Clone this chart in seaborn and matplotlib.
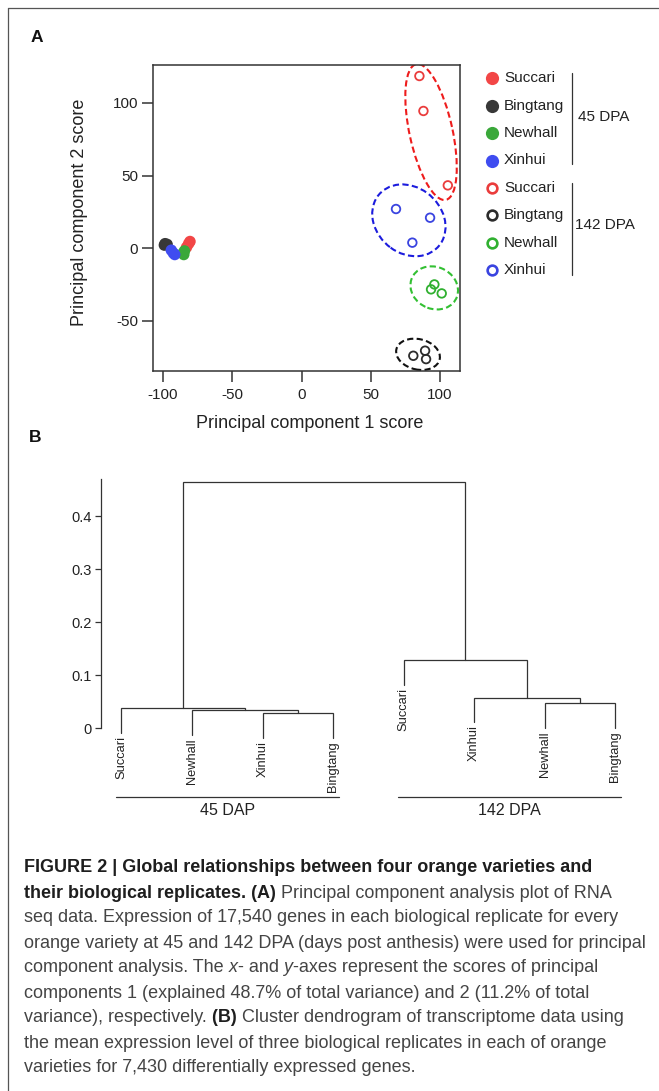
import numpy as np
import pandas as pd
import matplotlib
matplotlib.use("Agg")
import matplotlib.pyplot as plt
import seaborn as sns
from matplotlib.patches import Ellipse

# --- panel A: PCA scores (three replicates per variety, in the order of varieties)
varieties = ["Succari", "Bingtang", "Newhall", "Xinhui"]
pc1_45dpa = [-80.5, -81.5, -83.0, -98.5, -97.0, -99.0, -85.5, -85.0, -84.5, -94.0, -92.5, -91.5]
pc2_45dpa = [4.5, 3.0, 0.5, 3.0, 2.5, 2.0, -3.5, -4.5, -2.0, -1.5, -3.5, -4.5]
pc1_142dpa = [85.1, 88.0, 105.6, 80.7, 89.2, 89.9, 95.9, 93.5, 101.2, 68.2, 92.8, 80.0]
pc2_142dpa = [118.6, 94.5, 43.2, -74.3, -70.8, -76.6, -25.1, -28.5, -31.3, 26.9, 20.9, 3.7]

# group outlines around the 142 DPA replicates: centre x, centre y, width, height, angle
outline_cx = [93.5, 84.1, 95.8, 77.5]
outline_cy = [80.0, -73.3, -27.5, 19.1]
outline_w = [96, 32, 35, 56]
outline_h = [31, 21, 29, 46]
outline_angle = [103, -12, -20, -35]

dot_colors = ["#f24646", "#383838", "#3aa83a", "#3f4cf0"]
ring_colors = ["#ea3c3c", "#2c2c2c", "#30b030", "#3a44e0"]
outline_colors = ["#ee1c1c", "#111111", "#33c033", "#1c1cdd"]

# --- panel B: dendrogram (leaves 0-7, merged clusters numbered from 8)
leaf_labels = ["Succari", "Newhall", "Xinhui", "Bingtang", "Succari", "Xinhui", "Newhall", "Bingtang"]
merge_left = [2, 1, 0, 6, 5, 4, 10]
merge_right = [3, 8, 9, 7, 11, 12, 13]
merge_height = [0.028, 0.034, 0.038, 0.047, 0.058, 0.129, 0.465]
stage_labels = ["45 DAP", "142 DPA"]
stage_leaves = [(1, 4), (5, 8)]
height_ticks = [0, 0.1, 0.2, 0.3, 0.4]

caption_lines = [
    [("FIGURE 2 | Global relationships between four orange varieties and", "bold")],
    [("their biological replicates. (A)", "bold"), (" Principal component analysis plot of RNA", "normal")],
    [("seq data. Expression of 17,540 genes in each biological replicate for every", "normal")],
    [("orange variety at 45 and 142 DPA (days post anthesis) were used for principal", "normal")],
    [("component analysis. The", "normal"), (" x", "italic"), ("- and", "normal"), (" y", "italic"),
     ("-axes represent the scores of principal", "normal")],
    [("components 1 (explained 48.7% of total variance) and 2 (11.2% of total", "normal")],
    [("variance), respectively.", "normal"), (" (B)", "bold"),
     (" Cluster dendrogram of transcriptome data using", "normal")],
    [("the mean expression level of three biological replicates in each of orange", "normal")],
    [("varieties for 7,430 differentially expressed genes.", "normal")],
]

W, H, DPI = 659, 1091, 100
sns.set_theme(style="ticks")
plt.rcParams["font.family"] = ["Liberation Sans", "DejaVu Sans"]
plt.rcParams["axes.unicode_minus"] = False
INK = "#333333"


def px_rect(left, top, right, bottom):
    return [left / W, 1 - bottom / H, (right - left) / W, (bottom - top) / H]


fig = plt.figure(figsize=(W / DPI, H / DPI), dpi=DPI)
fig.patch.set_facecolor("white")

# overlay in pixel units for frame, labels, legend and caption
ov = fig.add_axes([0, 0, 1, 1])
ov.set_xlim(0, W)
ov.set_ylim(H, 0)
ov.axis("off")
ov.plot([8, 8], [H, 8], color="#555555", lw=0.9)
ov.plot([8, W], [8, 8], color="#555555", lw=0.9)
ov.text(31, 37, "A", fontsize=12.5, fontweight="bold", va="center", color="#111111")
ov.text(29, 437, "B", fontsize=12.5, fontweight="bold", va="center", color="#111111")

# ---------------- panel A
ax_a = fig.add_axes(px_rect(153, 65, 460, 371))
df_45 = pd.DataFrame({"PC1": pc1_45dpa, "PC2": pc2_45dpa, "variety": np.repeat(varieties, 3)})
df_142 = pd.DataFrame({"PC1": pc1_142dpa, "PC2": pc2_142dpa, "variety": np.repeat(varieties, 3)})

sns.scatterplot(data=df_45, x="PC1", y="PC2", hue="variety", palette=dict(zip(varieties, dot_colors)),
                s=68, linewidth=0, legend=False, ax=ax_a, zorder=3)
sns.scatterplot(data=df_142, x="PC1", y="PC2", hue="variety", palette=dict(zip(varieties, ring_colors)),
                s=38, legend=False, ax=ax_a, zorder=3)
rings = ax_a.collections[-1]
rings.set_edgecolors(rings.get_facecolors())
rings.set_facecolors("none")
rings.set_linewidths(1.3)

for i, color in enumerate(outline_colors):
    ax_a.add_patch(Ellipse((outline_cx[i], outline_cy[i]), outline_w[i], outline_h[i],
                           angle=outline_angle[i], fill=False, ec=color, lw=1.5, ls=(0, (3, 1.6))))

ax_a.set_xlim(-107.2, 114.4)
ax_a.set_ylim(-84.8, 126.2)
ax_a.set_xticks([-100, -50, 0, 50, 100])
ax_a.set_yticks([-50, 0, 50, 100])
ax_a.set_xlabel("")
ax_a.set_ylabel("")
ax_a.tick_params(length=7.9, width=1.1, color=INK, labelsize=11, labelcolor="#222222")
ax_a.tick_params(axis="x", pad=4)
ax_a.tick_params(axis="y", pad=2.7)
for sp in ax_a.spines.values():
    sp.set_visible(True)
    sp.set_linewidth(1.1)
    sp.set_color(INK)

ov.text(310, 424, "Principal component 1 score", fontsize=13, ha="center", va="center", color="#222222")
ov.text(80, 212, "Principal component 2 score", fontsize=13, ha="center", va="center",
        rotation=90, color="#222222")

# legend
row_y = 78.3 + 27.4 * np.arange(8)
for i in range(8):
    k = i % 4
    if i < 4:
        ov.plot(491.7, row_y[i], "o", ms=9.5, color=dot_colors[k], mec="none")
    else:
        ov.plot(491.7, row_y[i], "o", ms=7, mfc="white", mec=ring_colors[k], mew=1.9)
    ov.text(504, row_y[i], varieties[k], fontsize=11, va="center", color="#222222")
ov.plot([571.7, 571.7], [72.7, 164], color=INK, lw=0.9)
ov.plot([571.7, 571.7], [182.7, 275], color=INK, lw=0.9)
ov.text(578, 116.7, "45 DPA", fontsize=11, va="center", color="#222222")
ov.text(575, 225, "142 DPA", fontsize=11, va="center", color="#222222")

# ---------------- panel B
ax_b = fig.add_axes(px_rect(101.3, 473.9, 636.4, 754.8))
n_leaves = len(leaf_labels)
hang = 0.1 * max(merge_height)
node_x = list(np.arange(1, n_leaves + 1, dtype=float))
node_h = [None] * n_leaves
for a, b, h in zip(merge_left, merge_right, merge_height):
    ya = node_h[a] if node_h[a] is not None else h - hang
    yb = node_h[b] if node_h[b] is not None else h - hang
    ax_b.plot([node_x[a], node_x[a], node_x[b], node_x[b]], [ya, h, h, yb], color=INK, lw=0.9,
              solid_joinstyle="miter")
    if node_h[a] is None:
        ax_b.text(node_x[a], ya - 0.006, leaf_labels[a], rotation=90, ha="center", va="top",
                  fontsize=9.3, color="#222222")
    if node_h[b] is None:
        ax_b.text(node_x[b], yb - 0.006, leaf_labels[b], rotation=90, ha="center", va="top",
                  fontsize=9.3, color="#222222")
    node_x.append((node_x[a] + node_x[b]) / 2)
    node_h.append(h)

for label, (first, last) in zip(stage_labels, stage_leaves):
    ax_b.plot([first - 0.08, last + 0.08], [-0.130, -0.130], color=INK, lw=0.9, clip_on=False)
    ax_b.text((first + last) / 2, -0.155, label, fontsize=11.5, ha="center", va="center", color="#222222")

ax_b.set_xlim(0.714, 8.3)
ax_b.set_ylim(-0.05, 0.48)
ax_b.set_xticks([])
ax_b.set_yticks(height_ticks)
ax_b.set_yticklabels([f"{t:g}" for t in height_ticks])
sns.despine(ax=ax_b, bottom=True)
ax_b.spines["left"].set_bounds(0, 0.47)
ax_b.spines["left"].set_linewidth(0.9)
ax_b.spines["left"].set_color(INK)
ax_b.tick_params(axis="y", length=4.3, width=0.9, color=INK, labelsize=10.5, pad=2.5, labelcolor="#222222")
ax_b.patch.set_alpha(0)

# ---------------- caption
styles = {"bold": dict(fontweight="bold", color="#1e1e1e"),
          "italic": dict(style="italic", color="#444444"),
          "normal": dict(color="#444444")}
for i, line in enumerate(caption_lines):
    base_y = 872.5 + 25 * i
    prev = None
    for seg, kind in line:
        if prev is None:
            prev = ov.text(24.5, base_y, seg, fontsize=13, ha="left", va="baseline", **styles[kind])
        else:
            prev = ov.annotate(seg, xy=(1, 0), xycoords=prev, ha="left", va="bottom",
                               fontsize=13, **styles[kind])

fig.savefig("out.png", dpi=DPI)
